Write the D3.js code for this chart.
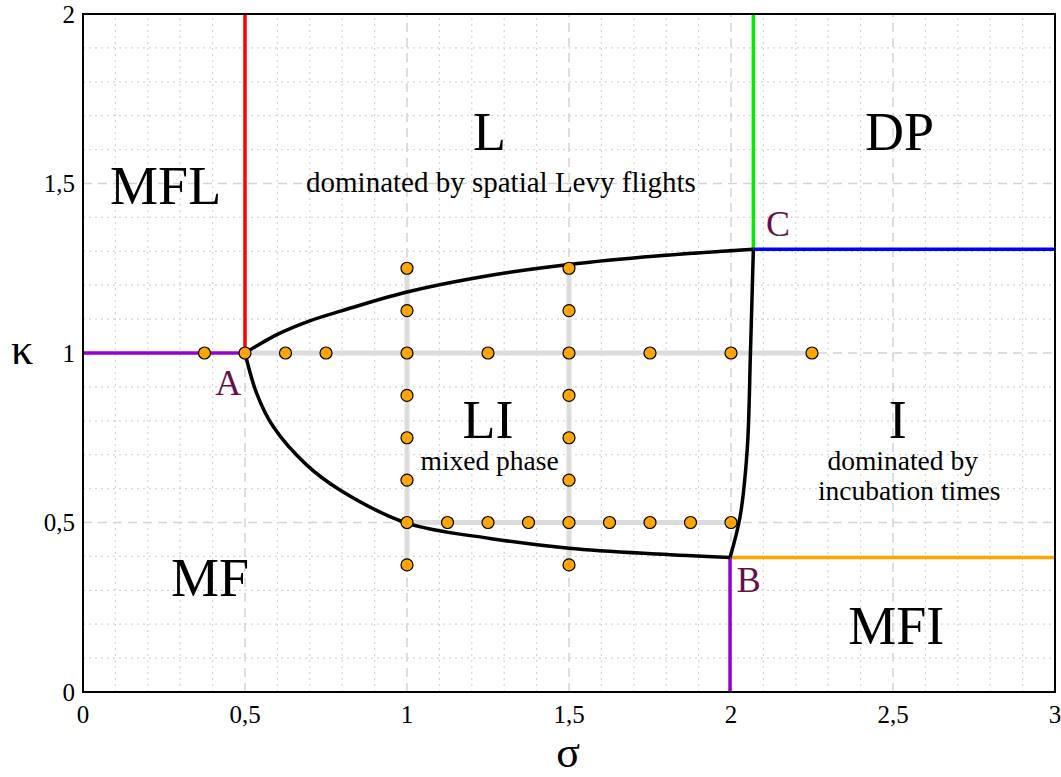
<!DOCTYPE html>
<html>
<head>
<meta charset="utf-8">
<script src="https://cdn.jsdelivr.net/npm/d3@7"></script>
<style>
  html, body { margin: 0; padding: 0; background: #fff; }
  svg { display: block; }
</style>
</head>
<body>
<script>
// phase diagram sigma / kappa

// boundary curves as [sigma, kappa]
const upperCurve = [[0.5, 1], [0.6, 1.055], [0.7, 1.095], [0.8, 1.125], [1.0, 1.18], [1.25, 1.228], [1.5, 1.261], [1.77, 1.286], [2.069, 1.306]];
const lowerCurve = [[0.5, 1], [0.536, 0.881], [0.587, 0.783], [0.69, 0.670], [0.793, 0.596], [1.0, 0.498], [1.256, 0.453], [1.5, 0.424], [1.77, 0.407], [1.997, 0.397]];
const rightCurve = [[2.069, 1.306], [2.06, 1.0], [2.05, 0.714], [2.028, 0.517], [1.997, 0.397]];

// coloured phase borders
const borders = [
  { from: [0.5, 1], to: [0.5, 2], color: "#ff0000" },
  { from: [2.069, 1.306], to: [2.069, 2], color: "#00ee00" },
  { from: [2.069, 1.306], to: [3, 1.306], color: "#0000ff" },
  { from: [1.997, 0.397], to: [3, 0.397], color: "#ffa500" },
  { from: [1.997, 0], to: [1.997, 0.397], color: "#9400d3" },
  { from: [0, 1], to: [0.5, 1], color: "#9400d3" }
];

// grey simulation paths
const paths = [
  [[0.5, 1], [2.25, 1]],
  [[1, 0.375], [1, 1.25]],
  [[1.5, 0.375], [1.5, 1.25]],
  [[1, 0.5], [2, 0.5]]
];

// simulated points
const rowK1 = [0.375, 0.5, 0.625, 0.75, 1, 1.25, 1.5, 1.75, 2, 2.25];
const colKappas = [1.25, 1.125, 0.875, 0.75, 0.625, 0.375];
const rowK05 = [1, 1.125, 1.25, 1.375, 1.5, 1.625, 1.75, 1.875, 2];

const xTicks = [0, 0.5, 1, 1.5, 2, 2.5, 3];
const yTicks = [0, 0.5, 1, 1.5, 2];
const fmt = v => String(v).replace(".", ",");

const regionLabels = [
  { text: "MFL", x: 0.255, y: 1.44, size: 54 },
  { text: "L", x: 1.255, y: 1.6, size: 54 },
  { text: "dominated by spatial Levy flights", x: 1.29, y: 1.475, size: 29 },
  { text: "DP", x: 2.52, y: 1.6, size: 54 },
  { text: "LI", x: 1.25, y: 0.75, size: 54 },
  { text: "mixed phase", x: 1.255, y: 0.655, size: 27.5 },
  { text: "I", x: 2.515, y: 0.75, size: 54 },
  { text: "dominated by", x: 2.53, y: 0.655, size: 27.5 },
  { text: "incubation times", x: 2.55, y: 0.567, size: 27.5 },
  { text: "MF", x: 0.392, y: 0.283, size: 54 },
  { text: "MFI", x: 2.51, y: 0.143, size: 54 }
];
const pointLabels = [
  { text: "A", x: 0.448, y: 0.877, anchor: "middle" },
  { text: "C", x: 2.108, y: 1.346, anchor: "start" },
  { text: "B", x: 2.018, y: 0.295, anchor: "start" }
];

const width = 1061, height = 777;
const margin = { left: 83, right: 6, top: 14, bottom: 85 };

const x = d3.scaleLinear().domain([0, 3]).range([margin.left, width - margin.right]);
const y = d3.scaleLinear().domain([0, 2]).range([height - margin.bottom, margin.top]);

const svg = d3.select("body").append("svg")
  .attr("width", width)
  .attr("height", height)
  .attr("font-family", "'Liberation Serif', 'Times New Roman', serif");

// minor grid (dotted)
const minorX = d3.range(1, 30).map(i => i / 10).filter(v => Math.abs(v * 2 - Math.round(v * 2)) > 1e-6);
const minorY = d3.range(1, 20).map(i => i / 10).filter(v => Math.abs(v * 2 - Math.round(v * 2)) > 1e-6);

const grid = svg.append("g");
grid.selectAll(".mx").data(minorX).join("line")
  .attr("x1", d => x(d)).attr("x2", d => x(d))
  .attr("y1", y(0)).attr("y2", y(2))
  .attr("stroke", "#d6d6d6").attr("stroke-width", 1.2).attr("stroke-dasharray", "2,4");
grid.selectAll(".my").data(minorY).join("line")
  .attr("y1", d => y(d)).attr("y2", d => y(d))
  .attr("x1", x(0)).attr("x2", x(3))
  .attr("stroke", "#d6d6d6").attr("stroke-width", 1.2).attr("stroke-dasharray", "2,4");

// major grid (dashed)
grid.selectAll(".Mx").data(xTicks.slice(1, -1)).join("line")
  .attr("x1", d => x(d)).attr("x2", d => x(d))
  .attr("y1", y(0)).attr("y2", y(2))
  .attr("stroke", "#d4d4d4").attr("stroke-width", 1.5).attr("stroke-dasharray", "9,6");
grid.selectAll(".My").data(yTicks.slice(1, -1)).join("line")
  .attr("y1", d => y(d)).attr("y2", d => y(d))
  .attr("x1", x(0)).attr("x2", x(3))
  .attr("stroke", "#d4d4d4").attr("stroke-width", 1.5).attr("stroke-dasharray", "9,6");

// grey paths
svg.append("g").selectAll("line").data(paths).join("line")
  .attr("x1", d => x(d[0][0])).attr("y1", d => y(d[0][1]))
  .attr("x2", d => x(d[1][0])).attr("y2", d => y(d[1][1]))
  .attr("stroke", "#dcdcdc").attr("stroke-width", 5);

// coloured borders
svg.append("g").selectAll("line").data(borders).join("line")
  .attr("x1", d => x(d.from[0])).attr("y1", d => y(d.from[1]))
  .attr("x2", d => x(d.to[0])).attr("y2", d => y(d.to[1]))
  .attr("stroke", d => d.color).attr("stroke-width", 3.5);

// black phase boundaries
const lineX = d3.line().x(d => x(d[0])).y(d => y(d[1])).curve(d3.curveCatmullRom.alpha(0.5));
svg.append("g").selectAll("path").data([upperCurve, lowerCurve, rightCurve]).join("path")
  .attr("d", lineX)
  .attr("fill", "none")
  .attr("stroke", "#000")
  .attr("stroke-width", 3.5)
  .attr("stroke-linejoin", "round");

// frame
svg.append("rect")
  .attr("x", x(0)).attr("y", y(2))
  .attr("width", x(3) - x(0)).attr("height", y(0) - y(2))
  .attr("fill", "none").attr("stroke", "#000").attr("stroke-width", 2);

// points
const pts = [
  ...rowK1.map(s => [s, 1]),
  ...colKappas.map(k => [1, k]),
  ...colKappas.map(k => [1.5, k]),
  ...rowK05.map(s => [s, 0.5])
];
svg.append("g").selectAll("circle").data(pts).join("circle")
  .attr("cx", d => x(d[0])).attr("cy", d => y(d[1]))
  .attr("r", 6)
  .attr("fill", "#ffa500")
  .attr("stroke", "#000")
  .attr("stroke-width", 1.2);

// tick labels
svg.append("g").selectAll("text").data(yTicks).join("text")
  .attr("x", x(0) - 8).attr("y", d => y(d))
  .attr("dy", "0.35em")
  .attr("text-anchor", "end")
  .attr("font-size", 25)
  .text(fmt);
svg.append("g").selectAll("text").data(xTicks).join("text")
  .attr("x", d => x(d)).attr("y", y(0) + 31)
  .attr("text-anchor", "middle")
  .attr("font-size", 25)
  .text(fmt);

// axis titles
svg.append("text").attr("x", 22).attr("y", 364)
  .attr("text-anchor", "middle").attr("font-size", 44).text("κ");
svg.append("text").attr("x", 568).attr("y", 767)
  .attr("text-anchor", "middle").attr("font-size", 44).text("σ");

// region labels
svg.append("g").selectAll("text").data(regionLabels).join("text")
  .attr("x", d => x(d.x)).attr("y", d => y(d.y))
  .attr("text-anchor", "middle")
  .attr("font-size", d => d.size)
  .attr("fill", "#000")
  .text(d => d.text);

svg.append("g").selectAll("text").data(pointLabels).join("text")
  .attr("x", d => x(d.x)).attr("y", d => y(d.y))
  .attr("text-anchor", d => d.anchor)
  .attr("font-size", 36)
  .attr("fill", "#66104a")
  .text(d => d.text);
</script>
</body>
</html>
